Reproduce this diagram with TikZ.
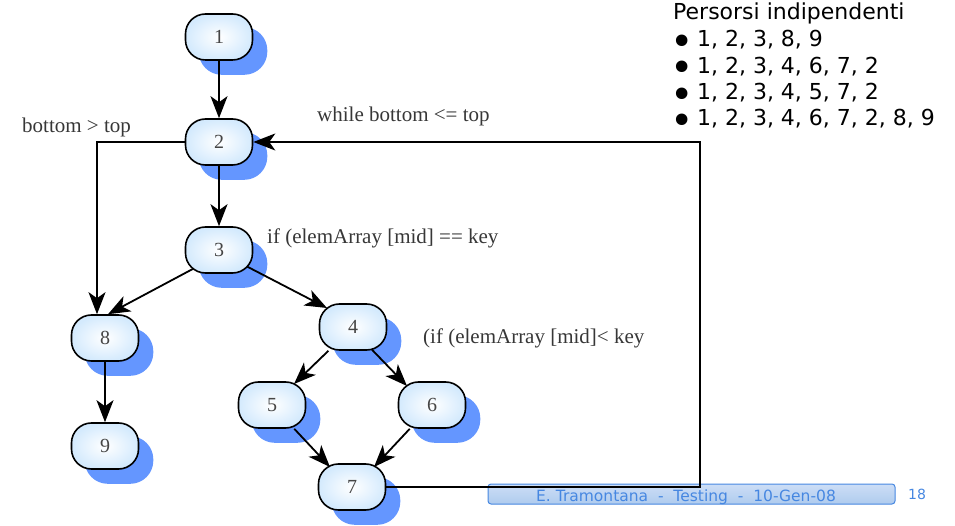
\documentclass[tikz,border=0pt]{standalone}
\usepackage{fontspec}
\usepackage{graphicx}
\setmainfont{Liberation Serif}
\newfontfamily\sansf{DejaVu Sans}
\usetikzlibrary{arrows.meta,calc}
\pgfdeclarelayer{bg}
\pgfdeclarelayer{edgelayer}
\pgfsetlayers{bg,edgelayer,main}
\definecolor{shadowblue}{RGB}{100,150,255}
\definecolor{nodefillout}{RGB}{212,234,253}
\definecolor{labelgray}{RGB}{55,55,55}
\definecolor{digitgray}{RGB}{70,70,70}
\definecolor{footblue}{RGB}{70,135,225}
\definecolor{footfill}{RGB}{175,203,238}
\definecolor{foottop}{RGB}{205,222,246}
\newcommand{\bigbul}{\raisebox{-8.3pt}[0pt][0pt]{\scalebox{1.8}{•}}\hspace{3.5pt}}
\begin{document}
\begin{tikzpicture}[x=1pt,y=-1pt,
  cnode/.style={draw=black, line width=1.6pt, rounded corners=20pt,
    minimum width=67pt, minimum height=46pt, inner sep=0pt,
    inner color=white, outer color=nodefillout,
    font=\fontsize{20}{20}\selectfont, text=digitgray},
  flow/.style={line width=1.8pt, -{Stealth[length=22pt,width=17pt,inset=6pt]}},
  lbl/.style={font=\fontsize{21}{21}\selectfont, text=labelgray, inner sep=0pt},
  rt/.style={font=\sansf\fontsize{22}{22}\selectfont, text=black, inner sep=0pt},
  foottext/.style={font=\sansf\fontsize{15.5}{15.5}\selectfont, text=footblue, inner sep=0pt}]
\useasboundingbox (0,0) rectangle (955,526);

% nodes
\node[cnode] (n1) at (219,37) {1};
\node[cnode] (n2) at (219,142) {2};
\node[cnode] (n3) at (219,250) {3};
\node[cnode] (n4) at (353,327) {4};
\node[cnode] (n5) at (272,405) {5};
\node[cnode] (n6) at (432,405) {6};
\node[cnode] (n7) at (352,487) {7};
\node[cnode] (n8) at (105,338) {8};
\node[cnode] (n9) at (105,446) {9};

% shadows and footer box
\begin{pgfonlayer}{bg}
  \foreach \n in {n1,n2,n3,n4,n5,n6,n7,n8,n9}{
    \fill[shadowblue, rounded corners=23pt]
      ($(\n.south west)+(14,14)$) rectangle ($(\n.north east)+(14,14)$);
  }
  \node[draw=footblue, line width=1pt, rounded corners=3pt,
        top color=foottop, bottom color=footfill,
        minimum width=407pt, minimum height=20pt, inner sep=0pt] (foot) at (691.5,494) {};
\end{pgfonlayer}
\node[foottext, anchor=base] (ftxt) at (686,501) {E. Tramontana~~-~~Testing~~-~~10-Gen-08};
\node[foottext, anchor=base west, font=\sansf\fontsize{14}{14}\selectfont] (page) at (908,499) {18};

% edges
\coordinate (fb) at (700,487);
\begin{pgfonlayer}{edgelayer}
  \draw[flow] (n1.south) -- (n2.north);
  \draw[flow] (n2.south) -- (n3.north);
  \draw[flow] (n2.west) -| ($(n8.north)+(-8,0)$);
  \draw[flow] ($(n3)+(0,5)$) -- ($(n8.north)+(3,0)$);
  \draw[flow] ($(n3)+(0,2)$) -- ($(n4)+(-26,-19)$);
  \draw[flow] (n4) -- ($(n5)+(22,-21)$);
  \draw[flow] ($(n4)+(0,3)$) -- ($(n6)+(-25,-19)$);
  \draw[flow] (n5) -- ($(n7)+(-22,-20)$);
  \draw[flow] (n6) -- ($(n7)+(22,-20)$);
  \draw[flow] (n8.south) -- (n9.north);
  \draw[flow] (n7.east) -- (fb) |- (n2.east);
\end{pgfonlayer}

% labels
\node[lbl, anchor=base west] (l1) at (22,133) {bottom > top};
\node[lbl, anchor=base west] (l2) at (317,122) {while bottom <= top};
\node[lbl, anchor=base west] (l3) at (267,244) {if (elemArray [mid] == key};
\node[lbl, anchor=base west] (l4) at (423,343) {(if (elemArray [mid]< key};

% right column
\node[rt, anchor=base west] (title) at (673,20) {Persorsi indipendenti};
\node[rt, anchor=base west] (p1) at (670,47) {\bigbul 1, 2, 3, 8, 9};
\node[rt, anchor=base west] (p2) at (670,73.5) {\bigbul 1, 2, 3, 4, 6, 7, 2};
\node[rt, anchor=base west] (p3) at (670,100) {\bigbul 1, 2, 3, 4, 5, 7, 2};
\node[rt, anchor=base west] (p4) at (670,126) {\bigbul 1, 2, 3, 4, 6, 7, 2, 8, 9};
\end{tikzpicture}
\end{document}
